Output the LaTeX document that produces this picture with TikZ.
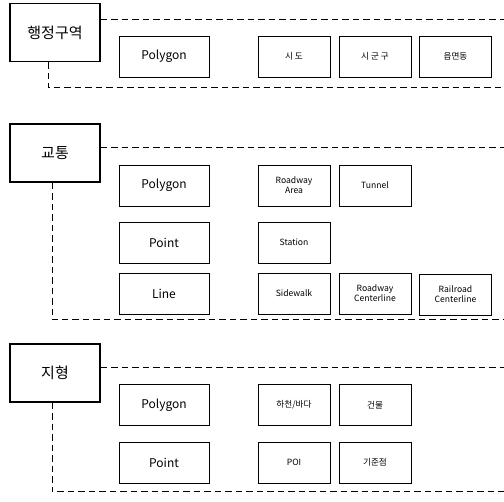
\documentclass[tikz,border=0pt]{standalone}
\usepackage{fontspec}
\setmainfont{Noto Sans CJK KR}
\begin{document}
\begin{tikzpicture}[x=1pt,y=-1pt,
  titlebox/.style={draw,line width=1.3pt,minimum width=90pt,minimum height=58pt,inner sep=0pt,font=\fontsize{15}{17}\selectfont},
  typebox/.style={draw,line width=0.8pt,minimum width=90pt,minimum height=41pt,inner sep=0pt,font=\fontsize{12}{14}\selectfont},
  itembox/.style={draw,line width=0.8pt,minimum width=72pt,minimum height=41pt,inner sep=0pt,align=center,font=\fontsize{8.6}{10}\selectfont},
  grp/.style={dashed,line width=1pt,dash pattern=on 6.5pt off 4pt}]
\useasboundingbox (0,0) rectangle (504,502);
% group 1
\node[titlebox] (t1) at (55,32.5) {행정구역};
\node[typebox] (p1) at (164,56.5) {Polygon};
\node[itembox] (a1) at (294,56.5) {시 도};
\node[itembox] (a2) at (375,56.5) {시 군 구};
\node[itembox] (a3) at (455.5,56.5) {읍면동};
\coordinate (e1) at (504,20);
\coordinate (c1) at (48,88);
\coordinate (f1) at (504,88);
\draw[grp] (t1.east |- e1) -- (e1);
\draw[grp] (t1.south -| c1) -- (c1) -- (f1);
% group 2
\node[titlebox] (t2) at (55,153) {교통};
\node[typebox] (p2) at (164,185.5) {Polygon};
\node[typebox] (q2) at (164,242.5) {Point};
\node[typebox] (l2) at (164,293.5) {Line};
\node[itembox] (b1) at (294,185.5) {Roadway\\Area};
\node[itembox] (b2) at (375,185.5) {Tunnel};
\node[itembox] (b3) at (294,242.5) {Station};
\node[itembox] (b4) at (294,293.5) {Sidewalk};
\node[itembox] (b5) at (375,293.5) {Roadway\\Centerline};
\node[itembox] (b6) at (455.5,294.5) {Railroad\\Centerline};
\coordinate (e2) at (504,148);
\coordinate (c2) at (52,320);
\coordinate (f2) at (504,320);
\draw[grp] (t2.east |- e2) -- (e2);
\draw[grp] (t2.south -| c2) -- (c2) -- (f2);
% group 3
\node[titlebox] (t3) at (55,373) {지형};
\node[typebox] (p3) at (164,405) {Polygon};
\node[typebox] (q3) at (164,462.5) {Point};
\node[itembox] (d1) at (294,405) {하천/바다};
\node[itembox] (d2) at (375,405) {건물};
\node[itembox] (d3) at (294,462.5) {POI};
\node[itembox] (d4) at (375,462.5) {기준점};
\coordinate (e3) at (504,368);
\coordinate (c3) at (52,492);
\coordinate (f3) at (504,492);
\draw[grp] (t3.east |- e3) -- (e3);
\draw[grp] (t3.south -| c3) -- (c3) -- (f3);
\end{tikzpicture}
\end{document}
